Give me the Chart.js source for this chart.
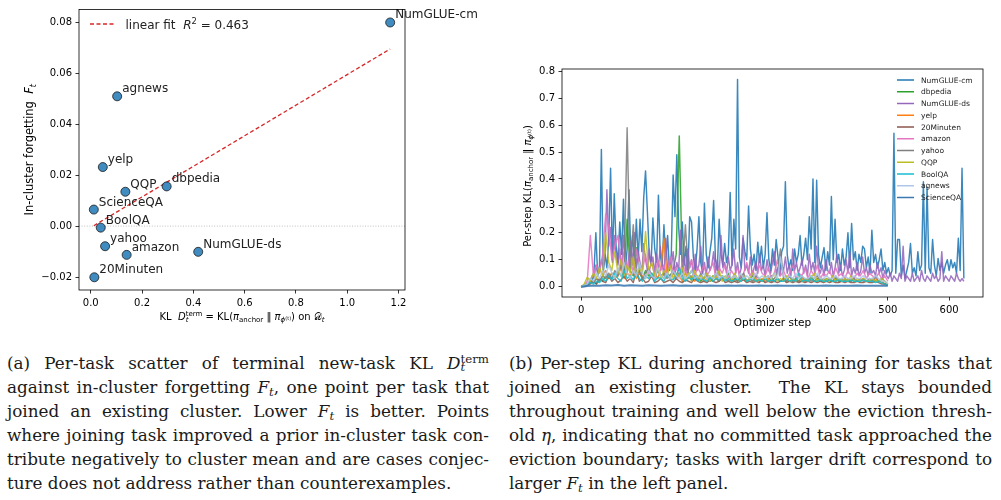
<!DOCTYPE html>
<html>
<head>
<meta charset="utf-8">
<script src="https://cdn.jsdelivr.net/npm/chart.js@4.4.0/dist/chart.umd.min.js"></script>
<style>
  body { margin: 0; width: 1001px; height: 500px; background: #fff; position: relative; overflow: hidden; }
  canvas { position: absolute; top: 0; }
  #c1 { left: 0; }
  #c2 { left: 500px; }
  .cap { position: absolute; top: 351px; font-family: "DejaVu Serif", serif; font-size: 16.8px; color: #1a1a1a; word-spacing: -2px; }
  .cap div { height: 24px; line-height: 24px; text-align: justify; text-align-last: justify; }
  .cap div.last { text-align-last: left; word-spacing: 0; }
  .cap sub { font-size: 0.7em; vertical-align: -0.25em; line-height: 0; }
  .st { position: relative; display: inline-block; line-height: 0; }
  .st .up { font-size: 0.7em; position: relative; top: -0.55em; }
  .st .dn { font-size: 0.7em; position: absolute; left: 0; top: 0.3em; font-style: italic; }
</style>
</head>
<body>
<canvas id="c1" width="500" height="330"></canvas>
<canvas id="c2" width="501" height="330"></canvas>

<div class="cap" style="left:7px;width:482px">
  <div>(a) Per-task scatter of terminal new-task KL <i>D</i><span class="st"><span class="up">term</span><span class="dn">t</span></span></div>
  <div>against in-cluster forgetting <i>F</i><sub><i>t</i></sub>, one point per task that</div>
  <div>joined an existing cluster. Lower <i>F</i><sub><i>t</i></sub> is better. Points</div>
  <div>where joining task improved a prior in-cluster task con-</div>
  <div>tribute negatively to cluster mean and are cases conjec-</div>
  <div class="last">ture does not address rather than counterexamples.</div>
</div>
<div class="cap" style="left:509px;width:483px">
  <div>(b) Per-step KL during anchored training for tasks that</div>
  <div>joined an existing cluster. &nbsp;The KL stays bounded</div>
  <div>throughout training and well below the eviction thresh-</div>
  <div>old <i>η</i>, indicating that no committed task approached the</div>
  <div>eviction boundary; tasks with larger drift correspond to</div>
  <div class="last">larger <i>F</i><sub><i>t</i></sub> in the left panel.</div>
</div>

<script>
// left panel: terminal KL vs in-cluster forgetting
const scatterTasks = ["NumGLUE-cm", "agnews", "yelp", "QQP", "dbpedia", "ScienceQA", "BoolQA", "yahoo", "amazon", "NumGLUE-ds", "20Minuten"];
const klTerm = [1.1675, 0.103, 0.047, 0.135, 0.296, 0.012, 0.039, 0.056, 0.140, 0.419, 0.014];
const forgetting = [0.080, 0.051, 0.0232, 0.0135, 0.0156, 0.0065, -0.0006, -0.0079, -0.0113, -0.0101, -0.0201];
const xTicksLeft = [0, 0.2, 0.4, 0.6, 0.8, 1.0, 1.2];
const yTicksLeft = [-0.02, 0, 0.02, 0.04, 0.06, 0.08];

// right panel: per-step KL, one value every few optimizer steps
const klTasks = ["NumGLUE-cm", "dbpedia", "NumGLUE-ds", "yelp", "20Minuten", "amazon", "yahoo", "QQP", "BoolQA", "agnews", "ScienceQA"];
const xTicksRight = [0, 100, 200, 300, 400, 500, 600];
const yTicksRight = [0, 0.1, 0.2, 0.3, 0.4, 0.5, 0.6, 0.7, 0.8];

// every 3 steps
const numglueCm = [
  0, 0, 0.002, 0.005, 0.01, 0.03, 0.02, 0.06, 0.20, 0.04,
  0.08, 0.51, 0.05, 0.12, 0.07, 0.18, 0.44, 0.10, 0.345, 0.15,
  0.09, 0.24, 0.12, 0.325, 0.06, 0.14, 0.36, 0.11, 0.19, 0.08,
  0.25, 0.10, 0.25, 0.13, 0.33, 0.43, 0.28, 0.12, 0.08, 0.255,
  0.14, 0.09, 0.34, 0.12, 0.07, 0.23, 0.10, 0.19, 0.06, 0.12,
  0.415, 0.26, 0.49, 0.22, 0.12, 0.24, 0.08, 0.15, 0.05, 0.26,
  0.24, 0.11, 0.06, 0.14, 0.26, 0.09, 0.05, 0.31, 0.12, 0.07,
  0.13, 0.18, 0.32, 0.10, 0.06, 0.25, 0.12, 0.08, 0.16, 0.09,
  0.12, 0.35, 0.08, 0.25, 0.14, 0.77, 0.11, 0.07, 0.18, 0.13,
  0.10, 0.30, 0.14, 0.08, 0.12, 0.06, 0.165, 0.09, 0.15, 0.07,
  0.12, 0.275, 0.10, 0.06, 0.14, 0.08, 0.175, 0.11, 0.05, 0.13,
  0.15, 0.39, 0.12, 0.07, 0.10, 0.06, 0.14, 0.09, 0.12, 0.19,
  0.08, 0.12, 0.18, 0.10, 0.26, 0.14, 0.40, 0.09, 0.395, 0.12,
  0.07, 0.11, 0.145, 0.06, 0.13, 0.08, 0.335, 0.10, 0.25, 0.09,
  0.12, 0.06, 0.14, 0.08, 0.11, 0.20, 0.07, 0.235, 0.10, 0.13,
  0.06, 0.12, 0.09, 0.15, 0.14, 0.07, 0.11, 0.05, 0.21, 0.09,
  0.12, 0.07, 0.10, 0.14, 0.06, 0.09, 0.05, 0.07, 0.04, 0.06,
  0.57, 0.05, 0.175, 0.175, 0.04, 0.08, 0.03, 0.06, 0.09, 0.16,
  0.05, 0.07, 0.04, 0.13, 0.06, 0.08, 0.39, 0.05, 0.37, 0.07,
  0.05, 0.175, 0.08, 0.04, 0.105, 0.06, 0.09, 0.05, 0.08, 0.10,
  0.06, 0.10, 0.07, 0.09, 0.05, 0.18, 0.06, 0.44, 0.03
];
const numglueDs = [
  0, 0, 0, 0.005, 0.01, 0.02, 0.04, 0.03, 0.08, 0.05,
  0.06, 0.10, 0.07, 0.12, 0.36, 0.15, 0.22, 0.09, 0.19, 0.11,
  0.08, 0.14, 0.06, 0.19, 0.10, 0.05, 0.12, 0.17, 0.08, 0.20,
  0.07, 0.13, 0.09, 0.05, 0.16, 0.10, 0.06, 0.14, 0.08, 0.11,
  0.05, 0.12, 0.07, 0.15, 0.09, 0.04, 0.18, 0.06, 0.10, 0.07,
  0.13, 0.05, 0.09, 0.06, 0.21, 0.08, 0.11, 0.05, 0.14, 0.07,
  0.10, 0.04, 0.12, 0.06, 0.08, 0.15, 0.05, 0.09, 0.04, 0.11,
  0.06, 0.08, 0.13, 0.05, 0.10, 0.04, 0.19, 0.07, 0.09, 0.05,
  0.11, 0.06, 0.08, 0.14, 0.05, 0.09, 0.04, 0.07, 0.19, 0.06,
  0.08, 0.05, 0.11, 0.04, 0.07, 0.09, 0.05, 0.12, 0.06, 0.08,
  0.04, 0.10, 0.06, 0.05, 0.09, 0.13, 0.05, 0.07, 0.04, 0.08,
  0.06, 0.11, 0.05, 0.08, 0.04, 0.14, 0.06, 0.09, 0.05, 0.07,
  0.10, 0.05, 0.08, 0.04, 0.12, 0.06, 0.09, 0.05, 0.15, 0.07,
  0.05, 0.08, 0.04, 0.10, 0.06, 0.05, 0.09, 0.04, 0.07, 0.12,
  0.05, 0.08, 0.04, 0.06, 0.10, 0.05, 0.13, 0.04, 0.07, 0.05,
  0.09, 0.04, 0.06, 0.11, 0.05, 0.07, 0.04, 0.08, 0.05, 0.06,
  0.04, 0.09, 0.05, 0.07, 0.03, 0.06, 0.04, 0.03, 0.05, 0.02,
  0.04, 0.03, 0.02, 0.05, 0.03, 0.15, 0.02, 0.04, 0.03, 0.02,
  0.05, 0.02, 0.03, 0.04, 0.02, 0.06, 0.03, 0.02, 0.04, 0.03,
  0.02, 0.05, 0.03, 0.04, 0.02, 0.03, 0.13, 0.02, 0.04, 0.03,
  0.02, 0.04, 0.03, 0.02, 0.05, 0.03, 0.02, 0.03, 0.02
];
// every 5 steps, steps 0..500
const dbpedia = [
  0, 0.005, 0.01, 0.015, 0.02, 0.01, 0.03, 0.02, 0.04, 0.03,
  0.05, 0.03, 0.06, 0.04, 0.05, 0.25, 0.06, 0.04, 0.145, 0.05,
  0.03, 0.06, 0.04, 0.05, 0.03, 0.07, 0.04, 0.03, 0.05, 0.04,
  0.06, 0.12, 0.56, 0.05, 0.03, 0.04, 0.06, 0.03, 0.04, 0.02,
  0.03, 0.05, 0.02, 0.04, 0.03, 0.02, 0.04, 0.03, 0.05, 0.02,
  0.03, 0.02, 0.04, 0.03, 0.02, 0.03, 0.04, 0.02, 0.03, 0.02,
  0.03, 0.02, 0.04, 0.02, 0.03, 0.02, 0.03, 0.02, 0.04, 0.02,
  0.03, 0.02, 0.02, 0.03, 0.02, 0.04, 0.02, 0.03, 0.02, 0.02,
  0.03, 0.02, 0.02, 0.03, 0.02, 0.02, 0.03, 0.02, 0.02, 0.03,
  0.02, 0.02, 0.03, 0.02, 0.02, 0.03, 0.02, 0.02, 0.02, 0.01, 0.01
];
const yelp = [
  0, 0.003, 0.01, 0.02, 0.015, 0.03, 0.02, 0.04, 0.06, 0.03,
  0.05, 0.03, 0.04, 0.07, 0.03, 0.05, 0.04, 0.06, 0.03, 0.05,
  0.04, 0.03, 0.06, 0.04, 0.05, 0.03, 0.07, 0.18, 0.04, 0.03,
  0.05, 0.03, 0.04, 0.02, 0.05, 0.03, 0.04, 0.02, 0.03, 0.04,
  0.02, 0.03, 0.04, 0.02, 0.03, 0.02, 0.04, 0.03, 0.02, 0.03,
  0.02, 0.03, 0.02, 0.04, 0.02, 0.03, 0.02, 0.03, 0.02, 0.03,
  0.02, 0.03, 0.02, 0.02, 0.03, 0.02, 0.03, 0.02, 0.02, 0.03,
  0.02, 0.02, 0.03, 0.02, 0.02, 0.03, 0.02, 0.02, 0.03, 0.02,
  0.02, 0.03, 0.02, 0.02, 0.03, 0.02, 0.02, 0.02, 0.03, 0.02,
  0.02, 0.02, 0.03, 0.02, 0.02, 0.02, 0.03, 0.02, 0.02, 0.01, 0.01
];
const minuten20 = [
  0, 0.002, 0.005, 0.01, 0.02, 0.01, 0.03, 0.02, 0.015, 0.04,
  0.02, 0.03, 0.015, 0.025, 0.04, 0.02, 0.03, 0.015, 0.06, 0.02,
  0.03, 0.015, 0.02, 0.04, 0.015, 0.02, 0.03, 0.015, 0.02, 0.025,
  0.015, 0.03, 0.02, 0.015, 0.025, 0.02, 0.015, 0.03, 0.02, 0.015,
  0.02, 0.015, 0.025, 0.02, 0.015, 0.02, 0.03, 0.015, 0.02, 0.015,
  0.02, 0.015, 0.02, 0.025, 0.015, 0.02, 0.015, 0.02, 0.015, 0.025,
  0.015, 0.02, 0.015, 0.02, 0.015, 0.02, 0.025, 0.015, 0.02, 0.015,
  0.02, 0.015, 0.02, 0.015, 0.02, 0.015, 0.02, 0.015, 0.02, 0.015,
  0.02, 0.015, 0.02, 0.015, 0.015, 0.02, 0.015, 0.02, 0.015, 0.015,
  0.02, 0.015, 0.015, 0.02, 0.015, 0.015, 0.02, 0.015, 0.01, 0.01, 0.005
];
const amazon = [
  0, 0.005, 0.02, 0.19, 0.04, 0.08, 0.05, 0.12, 0.27, 0.22,
  0.10, 0.15, 0.19, 0.07, 0.13, 0.06, 0.11, 0.05, 0.14, 0.08,
  0.06, 0.12, 0.05, 0.09, 0.04, 0.10, 0.06, 0.08, 0.04, 0.11,
  0.05, 0.07, 0.04, 0.09, 0.05, 0.06, 0.10, 0.04, 0.07, 0.05,
  0.08, 0.04, 0.06, 0.09, 0.03, 0.07, 0.05, 0.08, 0.03, 0.06,
  0.04, 0.07, 0.03, 0.05, 0.09, 0.04, 0.06, 0.03, 0.08, 0.05,
  0.04, 0.07, 0.03, 0.05, 0.10, 0.04, 0.06, 0.03, 0.05, 0.08,
  0.03, 0.05, 0.04, 0.07, 0.03, 0.06, 0.04, 0.08, 0.03, 0.05,
  0.04, 0.06, 0.03, 0.07, 0.04, 0.05, 0.03, 0.06, 0.04, 0.03,
  0.05, 0.04, 0.06, 0.03, 0.05, 0.04, 0.03, 0.05, 0.03, 0.04, 0.02
];
const yahoo = [
  0, 0.005, 0.01, 0.02, 0.015, 0.03, 0.02, 0.04, 0.03, 0.05,
  0.03, 0.06, 0.04, 0.08, 0.05, 0.59, 0.07, 0.23, 0.04, 0.06,
  0.03, 0.05, 0.07, 0.04, 0.03, 0.06, 0.04, 0.05, 0.03, 0.04,
  0.06, 0.03, 0.05, 0.04, 0.23, 0.05, 0.03, 0.04, 0.02, 0.05,
  0.03, 0.04, 0.02, 0.03, 0.05, 0.02, 0.04, 0.03, 0.02, 0.03,
  0.04, 0.02, 0.03, 0.05, 0.02, 0.03, 0.02, 0.04, 0.03, 0.02,
  0.03, 0.04, 0.02, 0.03, 0.05, 0.14, 0.03, 0.02, 0.04, 0.02,
  0.03, 0.02, 0.04, 0.02, 0.03, 0.02, 0.03, 0.04, 0.02, 0.03,
  0.02, 0.03, 0.02, 0.04, 0.02, 0.03, 0.02, 0.03, 0.02, 0.03,
  0.02, 0.03, 0.02, 0.02, 0.03, 0.02, 0.04, 0.02, 0.03, 0.02, 0.01
];
const qqp = [
  0, 0.01, 0.035, 0.02, 0.05, 0.03, 0.07, 0.04, 0.20, 0.09,
  0.06, 0.13, 0.05, 0.10, 0.04, 0.08, 0.05, 0.11, 0.04, 0.07,
  0.05, 0.205, 0.06, 0.09, 0.04, 0.07, 0.03, 0.06, 0.04, 0.08,
  0.03, 0.05, 0.04, 0.07, 0.03, 0.05, 0.02, 0.06, 0.03, 0.04,
  0.03, 0.05, 0.02, 0.04, 0.03, 0.06, 0.02, 0.04, 0.03, 0.02,
  0.05, 0.03, 0.02, 0.04, 0.02, 0.03, 0.05, 0.02, 0.03, 0.02,
  0.04, 0.02, 0.03, 0.05, 0.02, 0.03, 0.02, 0.04, 0.02, 0.03,
  0.02, 0.04, 0.02, 0.03, 0.02, 0.03, 0.05, 0.02, 0.03, 0.02,
  0.03, 0.02, 0.04, 0.02, 0.03, 0.02, 0.03, 0.02, 0.04, 0.02,
  0.03, 0.02, 0.03, 0.02, 0.02, 0.03, 0.02, 0.02, 0.03, 0.02, 0.01
];
const boolqa = [
  0, 0.003, 0.008, 0.015, 0.01, 0.02, 0.015, 0.03, 0.02, 0.04,
  0.025, 0.05, 0.03, 0.02, 0.06, 0.03, 0.04, 0.025, 0.05, 0.03,
  0.02, 0.04, 0.03, 0.05, 0.02, 0.035, 0.03, 0.02, 0.045, 0.03,
  0.025, 0.04, 0.07, 0.03, 0.02, 0.035, 0.025, 0.04, 0.02, 0.03,
  0.025, 0.02, 0.035, 0.02, 0.03, 0.025, 0.04, 0.02, 0.03, 0.02,
  0.025, 0.03, 0.02, 0.035, 0.02, 0.025, 0.03, 0.02, 0.025, 0.02,
  0.03, 0.02, 0.025, 0.02, 0.03, 0.02, 0.02, 0.03, 0.02, 0.025,
  0.02, 0.05, 0.02, 0.025, 0.02, 0.03, 0.02, 0.02, 0.025, 0.02,
  0.02, 0.025, 0.02, 0.02, 0.025, 0.02, 0.02, 0.02, 0.025, 0.02,
  0.02, 0.02, 0.025, 0.02, 0.02, 0.02, 0.015, 0.02, 0.015, 0.01, 0.005
];
const agnews = [
  0, 0.005, 0.01, 0.03, 0.02, 0.05, 0.03, 0.06, 0.04, 0.08,
  0.05, 0.03, 0.07, 0.04, 0.09, 0.05, 0.03, 0.06, 0.04, 0.09,
  0.05, 0.03, 0.06, 0.04, 0.03, 0.07, 0.04, 0.03, 0.05, 0.03,
  0.06, 0.04, 0.03, 0.05, 0.03, 0.04, 0.06, 0.03, 0.04, 0.03,
  0.05, 0.03, 0.04, 0.03, 0.05, 0.03, 0.04, 0.03, 0.06, 0.03,
  0.04, 0.03, 0.05, 0.03, 0.04, 0.03, 0.03, 0.05, 0.03, 0.04,
  0.03, 0.04, 0.03, 0.05, 0.03, 0.11, 0.04, 0.03, 0.04, 0.03,
  0.05, 0.03, 0.04, 0.03, 0.03, 0.04, 0.03, 0.05, 0.03, 0.03,
  0.04, 0.03, 0.03, 0.04, 0.03, 0.03, 0.04, 0.03, 0.03, 0.04,
  0.03, 0.03, 0.04, 0.03, 0.03, 0.03, 0.04, 0.03, 0.02, 0.02, 0.01
];
// every 10 steps, steps 0..500
const scienceqa = [
  0, 0.002, 0.004, 0.003, 0.005, 0.004, 0.006, 0.003, 0.005, 0.004,
  0.003, 0.005, 0.004, 0.003, 0.004, 0.005, 0.003, 0.004, 0.003, 0.004,
  0.003, 0.004, 0.003, 0.003, 0.004, 0.003, 0.004, 0.003, 0.003, 0.004,
  0.003, 0.003, 0.004, 0.003, 0.003, 0.003, 0.004, 0.003, 0.003, 0.003,
  0.004, 0.003, 0.003, 0.003, 0.003, 0.004, 0.003, 0.003, 0.003, 0.003, 0.003
];

const klValues = [numglueCm, dbpedia, numglueDs, yelp, minuten20, amazon, yahoo, qqp, boolqa, agnews, scienceqa];
const klStride = [3, 5, 3, 5, 5, 5, 5, 5, 5, 5, 10];
const klColors = ["#1f77b4", "#2ca02c", "#9467bd", "#ff7f0e", "#8c564b", "#e377c2", "#7f7f7f", "#bcbd22", "#17becf", "#aec7e8", "#3a78b0"];

const FONT = '"DejaVu Sans", sans-serif';

// draws a list of text pieces (italics, sub/superscripts) on one baseline
function drawRich(ctx, segs, x, y, align, color) {
  let cx = 0, ls = 0, le = 0;
  const out = [];
  for (const s of segs) {
    const font = (s.it ? "italic " : "") + s.size + "px " + (s.fam || FONT);
    ctx.font = font;
    const w = ctx.measureText(s.t).width;
    const start = s.stack ? ls : cx;
    const end = start + w;
    out.push({ s, start, font });
    if (s.stack) {
      le = Math.max(le, end);
      cx = le;
    } else {
      ls = start;
      le = end;
      cx = end;
    }
  }
  const x0 = align === "center" ? x - cx / 2 : x;
  ctx.fillStyle = color || "#000";
  ctx.textAlign = "left";
  ctx.textBaseline = "alphabetic";
  for (const o of out) {
    ctx.font = o.font;
    ctx.fillText(o.s.t, x0 + o.start, y + (o.s.dy || 0));
  }
}

function frame(ctx, ca) {
  ctx.save();
  ctx.strokeStyle = "#000";
  ctx.lineWidth = 0.8;
  ctx.strokeRect(ca.left, ca.top, ca.right - ca.left, ca.bottom - ca.top);
  ctx.restore();
}

function axisOpts(min, max, ticks, fmt, fit) {
  return {
    type: "linear",
    min,
    max,
    afterBuildTicks: (s) => { s.ticks = ticks.map((v) => ({ value: v })); },
    afterFit: fit,
    ticks: { callback: fmt, font: { family: "DejaVu Sans", size: 10 }, color: "#000", padding: 3.5, maxRotation: 0, autoSkip: false },
    grid: { drawOnChartArea: false, drawTicks: true, tickLength: 3.5, tickWidth: 0.8, tickColor: "#000" },
    border: { display: false },
  };
}

// ---------- left panel ----------
const n = klTerm.length;
const mx = klTerm.reduce((a, b) => a + b, 0) / n;
const my = forgetting.reduce((a, b) => a + b, 0) / n;
let sxy = 0, sxx = 0;
for (let i = 0; i < n; i++) {
  sxy += (klTerm[i] - mx) * (forgetting[i] - my);
  sxx += (klTerm[i] - mx) ** 2;
}
const slope = sxy / sxx;
const icpt = my - slope * mx;
const xLo = Math.min(...klTerm), xHi = Math.max(...klTerm);
const fitLine = [{ x: xLo, y: icpt + slope * xLo }, { x: xHi, y: icpt + slope * xHi }];

const leftDecor = {
  id: "leftDecor",
  beforeDatasetsDraw(chart) {
    const { ctx, chartArea: ca, scales } = chart;
    const y0 = scales.y.getPixelForValue(0);
    ctx.save();
    ctx.strokeStyle = "#b0b0b0";
    ctx.lineWidth = 0.8;
    ctx.setLineDash([1, 1.6]);
    ctx.beginPath();
    ctx.moveTo(ca.left, y0);
    ctx.lineTo(ca.right, y0);
    ctx.stroke();
    ctx.restore();
  },
  afterDatasetsDraw(chart) {
    const { ctx, scales } = chart;
    ctx.save();
    ctx.font = "12px " + FONT;
    ctx.fillStyle = "#222";
    ctx.textBaseline = "alphabetic";
    scatterTasks.forEach((name, i) => {
      const px = scales.x.getPixelForValue(klTerm[i]);
      const py = scales.y.getPixelForValue(forgetting[i]);
      ctx.fillText(name, px + 5, py - 4);
    });
    // legend
    ctx.strokeStyle = "#d62728";
    ctx.lineWidth = 1.3;
    ctx.setLineDash([4, 2.5]);
    ctx.beginPath();
    ctx.moveTo(90, 24);
    ctx.lineTo(115, 24);
    ctx.stroke();
    ctx.restore();
    drawRich(ctx, [
      { t: "linear fit  ", size: 12 },
      { t: "R", size: 12, it: true },
      { t: "2", size: 8.4, dy: -4.6 },
      { t: " = 0.463", size: 12 },
    ], 125.5, 28.5, "left", "#222");
  },
  afterDraw(chart) {
    const { ctx, chartArea: ca } = chart;
    frame(ctx, ca);
    drawRich(ctx, [
      { t: "KL  ", size: 10 },
      { t: "D", size: 10, it: true },
      { t: "t", size: 7, it: true, dy: 2.2 },
      { t: "term", size: 7, dy: -3.8, stack: true },
      { t: " = KL(", size: 10 },
      { t: "π", size: 10, it: true },
      { t: "anchor", size: 7, dy: 2.2 },
      { t: " ‖ ", size: 10 },
      { t: "π", size: 10, it: true },
      { t: "ϕ", size: 7, it: true, dy: 2.2 },
      { t: "(t)", size: 5, dy: 0 },
      { t: ") on ", size: 10 },
      { t: "𝒟", size: 10 },
      { t: "t", size: 7, it: true, dy: 2.2 },
    ], (ca.left + ca.right) / 2, 320, "center", "#000");
    ctx.save();
    ctx.translate(33, (ca.top + ca.bottom) / 2);
    ctx.rotate(-Math.PI / 2);
    drawRich(ctx, [
      { t: "In-cluster forgetting  ", size: 11.5 },
      { t: "F", size: 11.5, it: true },
      { t: "t", size: 8, it: true, dy: 2.6 },
    ], 0, 0, "center", "#000");
    ctx.restore();
  },
};

new Chart(document.getElementById("c1"), {
  type: "scatter",
  data: {
    datasets: [
      { type: "line", data: fitLine, borderColor: "#d62728", borderWidth: 1.3, borderDash: [4, 2.5], pointRadius: 0, order: 1 },
      {
        data: klTerm.map((x, i) => ({ x, y: forgetting[i] })),
        backgroundColor: "rgba(31,119,180,0.85)",
        borderColor: "#1c1c1c",
        borderWidth: 0.8,
        pointRadius: 4.5,
        order: 0,
      },
    ],
  },
  options: {
    responsive: false,
    animation: false,
    events: [],
    layout: { padding: { left: 0, right: 95, top: 7, bottom: 0 } },
    plugins: { legend: { display: false }, tooltip: { enabled: false } },
    scales: {
      x: axisOpts(-0.0458, 1.2253, xTicksLeft, (v) => v.toFixed(1), (s) => { s.height = 40; }),
      y: axisOpts(-0.0251, 0.0851, yTicksLeft, (v) => v.toFixed(2).replace("-", "\u2212"), (s) => { s.width = 79; }),
    },
  },
  plugins: [leftDecor],
});

// ---------- right panel ----------
const rightDecor = {
  id: "rightDecor",
  afterDatasetsDraw(chart) {
    const { ctx } = chart;
    ctx.save();
    ctx.font = "7.5px " + FONT;
    ctx.textBaseline = "alphabetic";
    klTasks.forEach((name, i) => {
      const y = 80 + i * 11.75;
      ctx.strokeStyle = klColors[i];
      ctx.lineWidth = 1.5;
      ctx.beginPath();
      ctx.moveTo(397, y);
      ctx.lineTo(414, y);
      ctx.stroke();
      ctx.fillStyle = "#222";
      ctx.fillText(name, 421, y + 2.7);
    });
    ctx.restore();
  },
  afterDraw(chart) {
    const { ctx, chartArea: ca } = chart;
    frame(ctx, ca);
    drawRich(ctx, [{ t: "Optimizer step", size: 10.5 }], (ca.left + ca.right) / 2, 325.5, "center", "#000");
    ctx.save();
    ctx.translate(31, (ca.top + ca.bottom) / 2 + 3);
    ctx.rotate(-Math.PI / 2);
    drawRich(ctx, [
      { t: "Per-step KL(", size: 10 },
      { t: "π", size: 10, it: true },
      { t: "anchor", size: 7, dy: 2.2 },
      { t: " ‖ ", size: 10 },
      { t: "π", size: 10, it: true },
      { t: "ϕ", size: 7, it: true, dy: 2.2 },
      { t: "(t)", size: 5, dy: 0 },
      { t: ")", size: 10 },
    ], 0, 0, "center", "#000");
    ctx.restore();
  },
};

new Chart(document.getElementById("c2"), {
  type: "line",
  data: {
    datasets: klTasks.map((name, k) => ({
      label: name,
      data: klValues[k].map((v, i) => ({ x: i * klStride[k], y: v })),
      borderColor: klColors[k] + "e0",
      borderWidth: k === 10 ? 2 : 1.45,
      borderJoinStyle: "round",
      pointRadius: 0,
      tension: 0,
      order: klTasks.length - 1 - k,
    })),
  },
  options: {
    responsive: false,
    animation: false,
    events: [],
    parsing: false,
    layout: { padding: { left: 0, right: 18, top: 69, bottom: 0 } },
    plugins: { legend: { display: false }, tooltip: { enabled: false } },
    scales: {
      x: axisOpts(-31.2, 655.2, xTicksRight, (v) => String(v), (s) => { s.height = 33; }),
      y: axisOpts(-0.0385, 0.8085, yTicksRight, (v) => v.toFixed(1), (s) => { s.width = 62; }),
    },
  },
  plugins: [rightDecor],
});
</script>
</body>
</html>
